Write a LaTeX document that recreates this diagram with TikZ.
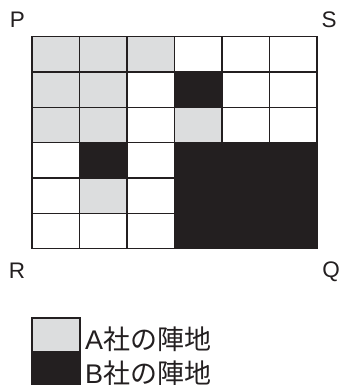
\documentclass[tikz,border=0pt]{standalone}
\usepackage{fontspec}
\setmainfont{Liberation Sans}
\newfontfamily\cjk{Noto Sans CJK JP}
\usepackage{tikz}
\usepackage{xcolor}
\definecolor{firmA}{HTML}{DCDDDE}
\definecolor{firmB}{HTML}{231F20}
\definecolor{vacant}{HTML}{FFFFFF}
\tikzset{
  cell/.style={draw=firmB, line width=1.3pt, minimum width=47.5pt,
               minimum height=35.3pt, inner sep=0pt},
  corner/.style={font=\fontsize{22.5}{22.5}\selectfont, text=firmB, anchor=base, inner sep=0pt},
  keybox/.style={draw=firmB, line width=1.3pt, minimum width=48pt,
                 minimum height=33.5pt, inner sep=0pt},
  keytext/.style={font=\fontsize{27}{27}\selectfont, text=firmB, anchor=base west, inner sep=0pt}
}
\begin{document}
\begin{tikzpicture}[x=1pt,y=-1pt]
  \useasboundingbox (0,0) rectangle (341,385);

  % corner letters
  \node[corner] (P) at (17.5,28) {P};
  \node[corner] (S) at (329,28) {S};
  \node[corner] (R) at (17,278) {R};
  \node[corner] (Q) at (331,277) {Q};

  % 6x6 board
  \foreach \row [count=\i] in {{firmA,firmA,firmA,vacant,vacant,vacant},
                               {firmA,firmA,vacant,firmB,vacant,vacant},
                               {firmA,firmA,vacant,firmA,vacant,vacant},
                               {vacant,firmB,vacant,firmB,firmB,firmB},
                               {vacant,firmA,vacant,firmB,firmB,firmB},
                               {vacant,vacant,vacant,firmB,firmB,firmB}}{
    \foreach \k [count=\j] in \row {
      \node[cell,fill=\k] (c\i\j) at ({32+47.5*(\j-0.5)},{36.7+35.3*(\i-0.5)}) {};
    }
  }

  % legend
  \node[keybox,fill=firmA] (keyA) at (56,334.7) {};
  \node[keybox,fill=firmB] (keyB) at (56,368.2) {};
  \node[keytext] (txtA) at (85,349.5) {A{\cjk 社の陣地}};
  \node[keytext] (txtB) at (85,383) {B{\cjk 社の陣地}};
\end{tikzpicture}
\end{document}
